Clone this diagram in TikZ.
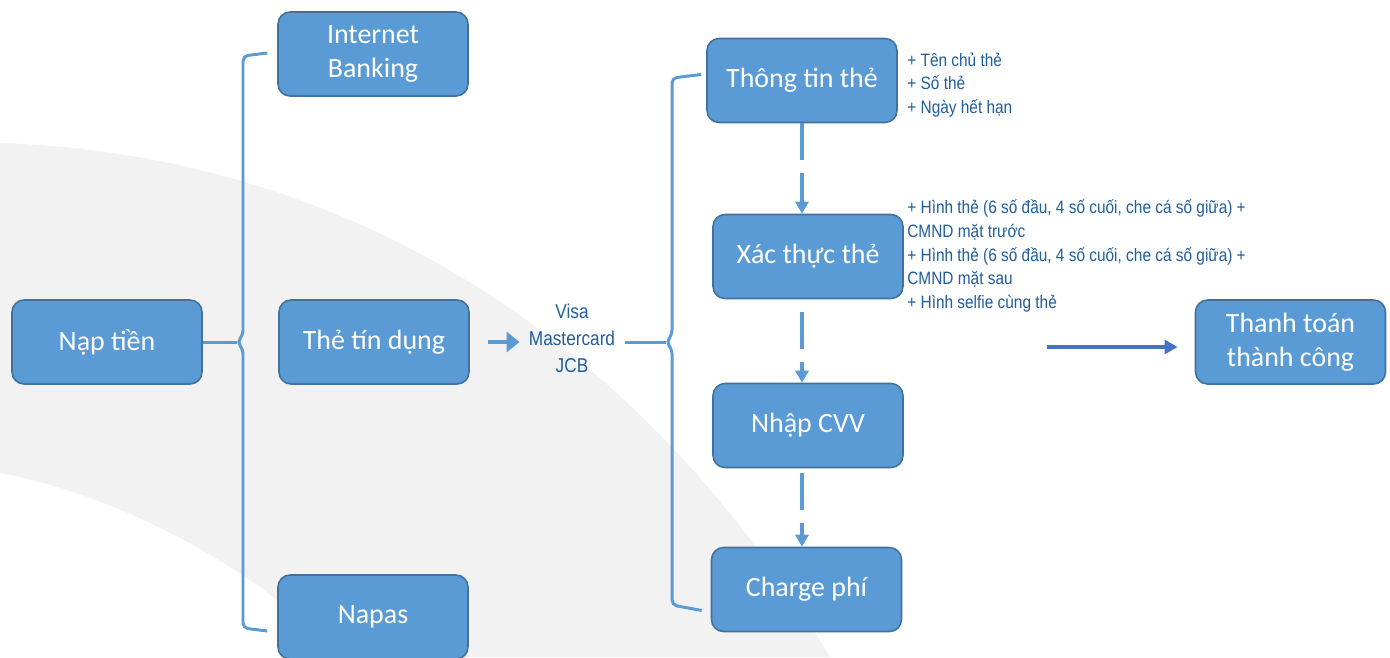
\documentclass[tikz,border=0pt]{standalone}
\usepackage{fontspec}
\setmainfont{Carlito}
\newfontfamily\notefont[FakeStretch=0.86]{Liberation Sans}
\usetikzlibrary{calc,arrows.meta}
\definecolor{box-blue}{HTML}{5B9BD5}
\definecolor{box-edge}{HTML}{41719C}
\definecolor{note-blue}{RGB}{32,94,156}
\definecolor{arrow-blue}{HTML}{4472C4}
\definecolor{band-gray}{gray}{0.95}
\tikzstyle{stepbox}=[draw=box-edge,fill=box-blue,line width=0.9pt,rounded corners=0.24cm,minimum width=3.8cm,minimum height=1.68cm,inner sep=0pt,text=white,align=center,font=\fontsize{15.9}{19.3}\selectfont]
\tikzstyle{brace}=[box-blue,line width=1.7pt,rounded corners=0.1cm]
\tikzstyle{notes}=[note-blue,align=left,inner sep=0pt,font=\notefont\fontsize{10.2}{13.4}\selectfont]
\tikzstyle{cardlist}=[note-blue,align=center,inner sep=0pt,font=\notefont\fontsize{11.4}{15.4}\selectfont]
\tikzstyle{dasharrow}=[box-blue,line width=2.3pt,dash pattern=on 0.74cm off 0.26cm,-{Triangle[length=0.24cm,width=0.26cm]}]
\tikzstyle{solidarrow}=[box-blue,line width=2.3pt,-{Triangle[length=0.26cm,width=0.4cm]}]
\tikzstyle{okarrow}=[arrow-blue,line width=2.3pt,-{Triangle[length=0.26cm,width=0.27cm]}]

\begin{document}
\begin{tikzpicture}[x=0.02cm,y=-0.02cm]
	\clip (0,0) rectangle (1390,657);
	\fill[white] (0,0) rectangle (1390,657);
	% gray band behind
	\fill[band-gray] (0,143) .. controls (350,155) and (640,340) .. (830,657) -- (340,657) .. controls (260,570) and (120,495) .. (0,473) -- cycle;
	% boxes
	\node[stepbox] (nap) at (107,342) {Nạp tiền};
	\node[stepbox] (ib) at (373,54) {Internet\\Banking};
	\node[stepbox] (card) at (374,342) {Thẻ tín dụng};
	\node[stepbox] (napas) at (373,617) {Napas};
	\node[stepbox] (info) at (802,80.5) {Thông tin thẻ};
	\node[stepbox] (verify) at (808,256.5) {Xác thực thẻ};
	\node[stepbox] (cvv) at (808,425.5) {Nhập CVV};
	\node[stepbox] (fee) at (806.5,589.5) {Charge phí};
	\node[stepbox] (done) at (1290.5,342) {Thanh toán\\thành công};
	% card types and notes
	\node[cardlist] (cards) at (572,338) {Visa\\Mastercard\\JCB};
	\node[notes,anchor=west] (note1) at (907,85) {+ Tên chủ thẻ\\+ Số thẻ\\+ Ngày hết hạn};
	\node[notes,anchor=west] (note2) at (907,256) {+ Hình thẻ (6 số đầu, 4 số cuối, che cá số giữa) +\\CMND mặt trước\\+ Hình thẻ (6 số đầu, 4 số cuối, che cá số giữa) +\\CMND mặt sau\\+ Hình selfie cùng thẻ};
	% left brace
	\coordinate (tipL) at (237,342);
	\draw[brace] (nap.east) -- (tipL);
	\draw[brace] ($(ib.west)+(-10,-1)$) -- (243,56) -- (243,335) -- (tipL) -- (243,349) -- (243,628) -- ($(napas.west)+(-10,14)$);
	% right brace
	\coordinate (tipR) at (666,342);
	\draw[brace] ([xshift=0.2cm]cards.east |- tipR) -- (tipR);
	\draw[brace] ($(info.west)+(-5,-6)$) -- (672,78) -- (672,335) -- (tipR) -- (672,349) -- (672,605) -- ($(fee.west)+(-9,21)$);
	% arrows
	\draw[solidarrow,shorten <=0.36cm,shorten >=0.18cm] (card.east) -- (cards.west |- card.east);
	\draw[dasharrow] (info.south) -- (info.south |- verify.north);
	\draw[dasharrow,dash phase=0.74cm] (info.south |- verify.south) -- (info.south |- cvv.north);
	\draw[dasharrow,dash phase=0.9cm] (info.south |- cvv.south) -- (info.south |- fee.north);
	\coordinate (okstart) at (1047,347);
	\draw[okarrow,shorten >=0.34cm] (okstart) -- (okstart -| done.west);
\end{tikzpicture}
\end{document}
